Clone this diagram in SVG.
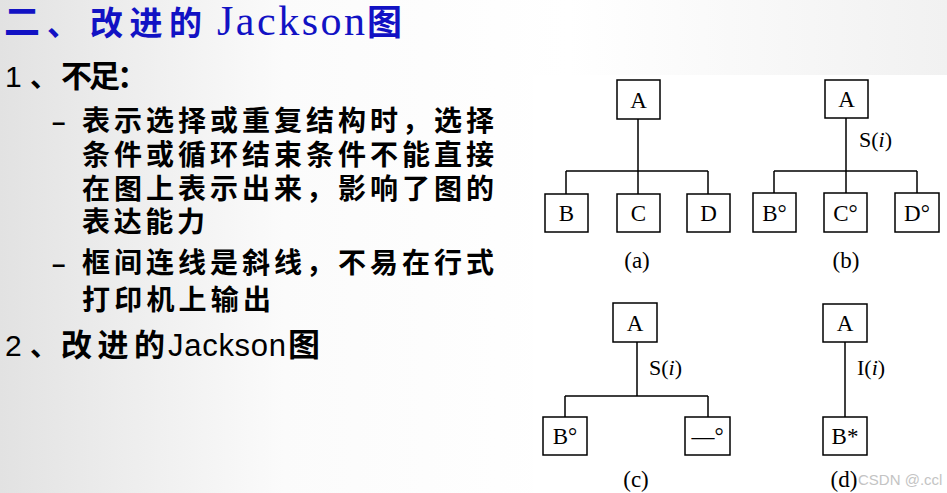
<svg xmlns="http://www.w3.org/2000/svg" width="947" height="493" viewBox="0 0 947 493">
<defs>
<linearGradient id="bg" x1="0" y1="0" x2="1" y2="0">
<stop offset="0" stop-color="#e2e2e2"/>
<stop offset="0.3" stop-color="#fbfbfb"/>
<stop offset="0.6" stop-color="#ffffff"/>
<stop offset="1" stop-color="#f1f1f1"/>
</linearGradient>
<style>
.cn{font-family:"Noto Sans CJK SC",sans-serif;font-weight:bold;fill:#000}
.ti{font-family:"Noto Sans CJK SC",sans-serif;font-weight:bold;fill:#1212c4}
.box{fill:#fff;stroke:#000;stroke-width:1.5}
.ln{stroke:#000;stroke-width:1.5;fill:none}
.lb{font-family:"Liberation Serif","Times New Roman",serif;font-size:23px;fill:#000;text-anchor:middle}
.cap{font-family:"Liberation Serif","Times New Roman",serif;font-size:22px;fill:#000}
</style>
</defs>
<rect width="947" height="493" fill="url(#bg)"/>
<rect x="533" y="75" width="414" height="418" fill="#fff"/>

<g id="title">
<text class="ti" x="4" y="35" font-size="36">二</text>
<text class="ti" x="47" y="35" font-size="32">、</text>
<text class="ti" x="90" y="35" font-size="33" textLength="112" lengthAdjust="spacing">改进的</text>
<text x="217" y="35" font-family="Liberation Serif,serif" font-size="42" fill="#1212c4" textLength="148" lengthAdjust="spacing">Jackson</text>
<text class="ti" x="367" y="35" font-size="35">图</text>
</g>

<g id="text-left">
<text x="5" y="87" font-family="Liberation Sans,sans-serif" font-size="30" fill="#000">1</text>
<text class="cn" x="30" y="87" font-size="28">、</text>
<text class="cn" x="61" y="87" font-size="31" textLength="87" lengthAdjust="spacing">不足：</text>
<text x="52" y="130" font-family="Liberation Sans,sans-serif" font-size="24" font-weight="bold" fill="#000">–</text>
<text class="cn" x="82" y="131" font-size="28" textLength="412" lengthAdjust="spacing">表示选择或重复结构时，选择</text>
<text class="cn" x="82" y="165" font-size="28" textLength="412" lengthAdjust="spacing">条件或循环结束条件不能直接</text>
<text class="cn" x="82" y="199" font-size="28" textLength="412" lengthAdjust="spacing">在图上表示出来，影响了图的</text>
<text class="cn" x="82" y="232" font-size="28" textLength="123" lengthAdjust="spacing">表达能力</text>
<text x="52" y="272" font-family="Liberation Sans,sans-serif" font-size="24" font-weight="bold" fill="#000">–</text>
<text class="cn" x="82" y="273" font-size="28" textLength="412" lengthAdjust="spacing">框间连线是斜线，不易在行式</text>
<text class="cn" x="82" y="310" font-size="28" textLength="189" lengthAdjust="spacing">打印机上输出</text>
<text x="5" y="356" font-family="Liberation Sans,sans-serif" font-size="30" fill="#000">2</text>
<text class="cn" x="30" y="356" font-size="28">、</text>
<text class="cn" x="61" y="356" font-size="31" textLength="104" lengthAdjust="spacing">改进的</text>
<text x="168" y="356" font-family="Liberation Sans,sans-serif" font-size="31" fill="#000" textLength="118" lengthAdjust="spacing">Jackson</text>
<text class="cn" x="288" y="356" font-size="32">图</text>
</g>

<g id="connectors">
<path class="ln" d="M638 119V171M566 171H708M566 171V194M638 171V194M708 171V194"/>
<path class="ln" d="M846 118V171M774 171H917M774 171V193M846 171V193M917 171V193"/>
<path class="ln" d="M637 342V396M565 396H708M565 396V417M708 396V417"/>
<path class="ln" d="M845 342V417"/>
</g>

<g id="diagram-a">
<g id="a-A"><rect class="box" x="617" y="80" width="43" height="39"/><text class="lb" x="638.5" y="108">A</text></g>
<g id="a-B"><rect class="box" x="545" y="194" width="43" height="38"/><text class="lb" x="566.5" y="221">B</text></g>
<g id="a-C"><rect class="box" x="617" y="194" width="43" height="38"/><text class="lb" x="638.5" y="221">C</text></g>
<g id="a-D"><rect class="box" x="687" y="194" width="43" height="38"/><text class="lb" x="708.5" y="221">D</text></g>
<text class="lb" x="637" y="268">(a)</text>
</g>

<g id="diagram-b">
<g id="b-A"><rect class="box" x="825" y="80" width="43" height="38"/><text class="lb" x="846.5" y="107">A</text></g>
<text class="cap" x="859" y="147">S(<tspan font-style="italic">i</tspan>)</text>
<g id="b-B"><rect class="box" x="753" y="193" width="43" height="39"/><text class="lb" x="774.5" y="221">B°</text></g>
<g id="b-C"><rect class="box" x="824" y="193" width="43" height="39"/><text class="lb" x="845.5" y="221">C°</text></g>
<g id="b-D"><rect class="box" x="895" y="193" width="44" height="39"/><text class="lb" x="917" y="221">D°</text></g>
<text class="lb" x="846" y="268">(b)</text>
</g>

<g id="diagram-c">
<g id="c-A"><rect class="box" x="613" y="303" width="44" height="39"/><text class="lb" x="635" y="331">A</text></g>
<text class="cap" x="649" y="375">S(<tspan font-style="italic">i</tspan>)</text>
<g id="c-B"><rect class="box" x="543" y="417" width="44" height="38"/><text class="lb" x="565" y="444">B°</text></g>
<g id="c-E"><rect class="box" x="685" y="417" width="45" height="38"/><text class="lb" x="707.5" y="444">—°</text></g>
<text class="lb" x="636" y="487" font-size="22">(c)</text>
</g>

<g id="diagram-d">
<g id="d-A"><rect class="box" x="823" y="304" width="44" height="38"/><text class="lb" x="845" y="331">A</text></g>
<text class="cap" x="857" y="375">I(<tspan font-style="italic">i</tspan>)</text>
<g id="d-B"><rect class="box" x="823" y="417" width="44" height="38"/><text class="lb" x="845" y="444">B*</text></g>
<text class="lb" x="844" y="487" font-size="22">(d)</text>
</g>

<text x="858" y="485" font-family="Liberation Sans,sans-serif" font-size="15" fill="#c4c4c4">CSDN @.ccl</text>
</svg>
